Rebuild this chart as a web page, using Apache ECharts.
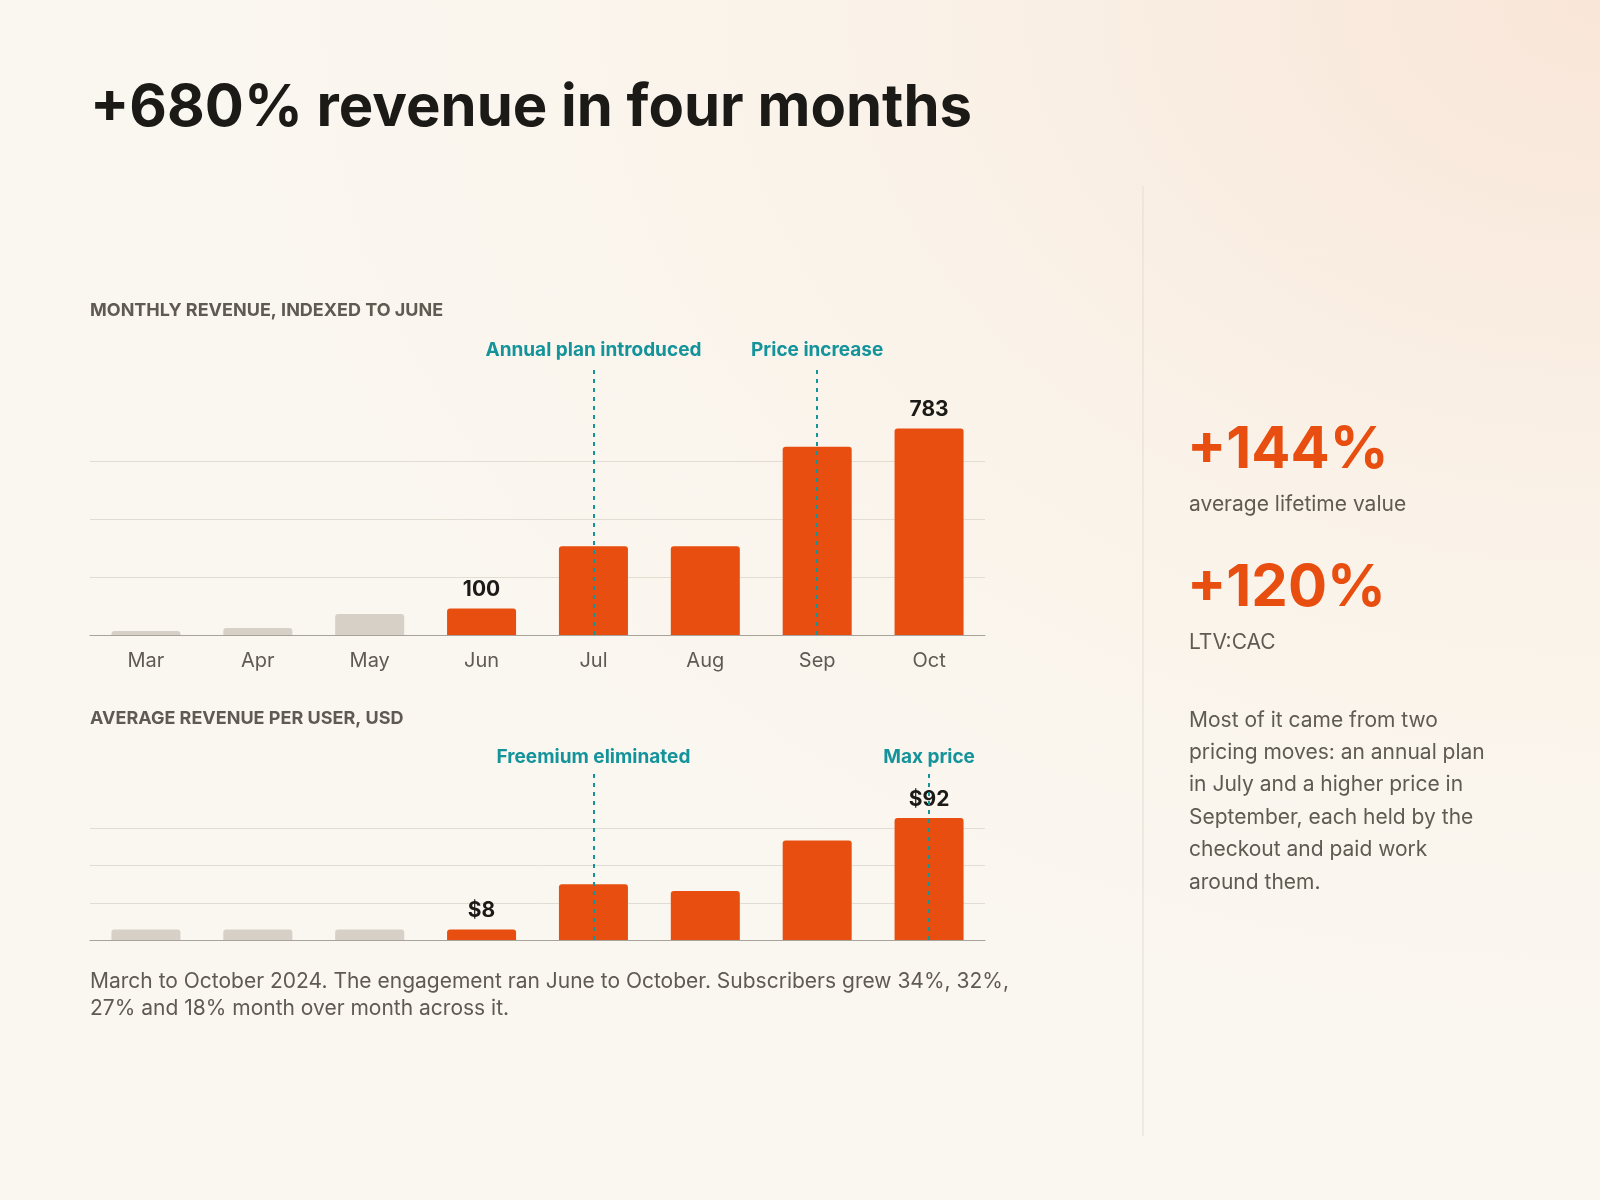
<!DOCTYPE html>
<html><head><meta charset="utf-8">
<script src="https://cdn.jsdelivr.net/npm/echarts@6/dist/echarts.min.js"></script>
<style>html,body{margin:0;padding:0;}#c{width:1600px;height:1200px;background:radial-gradient(ellipse at 100% 0%,#f9e6d8 0%,#faf3ea 35%,#faf7f0 60%);}</style>
</head><body><div id="c"></div>
<script>
const months = ['Mar','Apr','May','Jun','Jul','Aug','Sep','Oct'];
const revenue = [15,27,80,100,336,336,714,783];
const arpu = [8,8,8,8,42,37,75,92];
const revGrid = [220,440,660];
const arpuGrid = [28,56,84];
const revLabeled = {'Jun':'100','Oct':'783'};
const arpuLabeled = {'Jun':'$8','Oct':'$92'};
const revNotes = [['Jul','Annual plan introduced'],['Sep','Price increase']];
const arpuNotes = [['Jul','Freemium eliminated'],['Oct','Max price']];
const activeFrom = 3;

const ORANGE='#e84e0f', GRAY='#d6d0c6', TEAL='#14939b', TXT='#5f5a52';
function barData(vals, labels){
  return vals.map((v,i)=>({value:v,itemStyle:{color:i>=activeFrom?ORANGE:GRAY,borderRadius:[3,3,0,0]},
    label:{show:!!labels[months[i]],formatter:labels[months[i]]||'',position:'top',distance:8,fontSize:21,fontWeight:'bold',color:'#1c1a17',fontFamily:'Inter'}}));
}
function gridLines(vals){return vals.map(v=>({yAxis:v}));}
function notes(arr, top){return arr.map(n=>[{coord:[n[0],0],symbol:'none'},{coord:[n[0],top],symbol:'none',
  label:{show:true,position:'end',formatter:n[1],color:TEAL,fontSize:19,fontWeight:'bold',fontFamily:'Inter',distance:6}}]);}
const chart = echarts.init(document.getElementById('c'));
const axisX = i=>({type:'category',gridIndex:i,data:months,axisTick:{show:false},
  axisLine:{lineStyle:{color:'#a8a39a',width:1.2}},axisLabel:{show:i===0,fontSize:20,color:TXT,fontFamily:'Inter',margin:16}});
const axisY = (i,max)=>({type:'value',gridIndex:i,min:0,max:max,splitLine:{show:false},axisLabel:{show:false},axisLine:{show:false},axisTick:{show:false}});
chart.setOption({
  animation:false,
  grid:[{left:90,width:895,top:358,height:277},{left:90,width:895,top:767.5,height:172.5}],
  xAxis:[axisX(0),axisX(1)],
  yAxis:[axisY(0,1050),axisY(1,130)],
  series:[
    {type:'bar',xAxisIndex:0,yAxisIndex:0,barWidth:69,data:barData(revenue,revLabeled),z:2,
     markLine:{silent:true,symbol:'none',label:{show:false},lineStyle:{color:'#e2ddd3',type:'solid',width:1},data:gridLines(revGrid),z:1}},
    {type:'line',xAxisIndex:0,yAxisIndex:0,data:[],markLine:{silent:true,symbol:'none',z:5,lineStyle:{color:TEAL,type:[4,5],width:2},data:notes(revNotes,1022)}},
    {type:'bar',xAxisIndex:1,yAxisIndex:1,barWidth:69,data:barData(arpu,arpuLabeled),z:2,
     markLine:{silent:true,symbol:'none',label:{show:false},lineStyle:{color:'#e2ddd3',type:'solid',width:1},data:gridLines(arpuGrid),z:1}},
    {type:'line',xAxisIndex:1,yAxisIndex:1,data:[],markLine:{silent:true,symbol:'none',z:5,lineStyle:{color:TEAL,type:[4,5],width:2},data:notes(arpuNotes,126)}}
  ],
  graphic:[
    {type:'text',left:90,top:80,style:{text:'+680% revenue in four months',font:'bold 58px Inter',fill:'#1c1a17'}},
    {type:'text',left:90,top:302,style:{text:'MONTHLY REVENUE, INDEXED TO JUNE',font:'bold 18px Inter',fill:TXT,letterSpacing:1.6}},
    {type:'text',left:90,top:710,style:{text:'AVERAGE REVENUE PER USER, USD',font:'bold 18px Inter',fill:TXT,letterSpacing:1.6}},
    {type:'text',left:90,top:968,style:{text:'March to October 2024. The engagement ran June to October. Subscribers grew 34%, 32%,\n27% and 18% month over month across it.',font:'21px Inter',fill:TXT,lineHeight:27}},
    {type:'line',shape:{x1:1143,y1:186,x2:1143,y2:1136},style:{stroke:'#e3ddd3',lineWidth:1}},
    {type:'text',left:1187,top:422,style:{text:'+144%',font:'bold 58px Inter',fill:ORANGE}},
    {type:'text',left:1189,top:494,style:{text:'average lifetime value',font:'21px Inter',fill:TXT}},
    {type:'text',left:1187,top:560,style:{text:'+120%',font:'bold 58px Inter',fill:ORANGE}},
    {type:'text',left:1189,top:632,style:{text:'LTV:CAC',font:'21px Inter',fill:TXT}},
    {type:'text',left:1189,top:704,style:{text:'Most of it came from two\npricing moves: an annual plan\nin July and a higher price in\nSeptember, each held by the\ncheckout and paid work\naround them.',font:'21px Inter',fill:TXT,lineHeight:32.4}}
  ]
});
</script></body></html>
